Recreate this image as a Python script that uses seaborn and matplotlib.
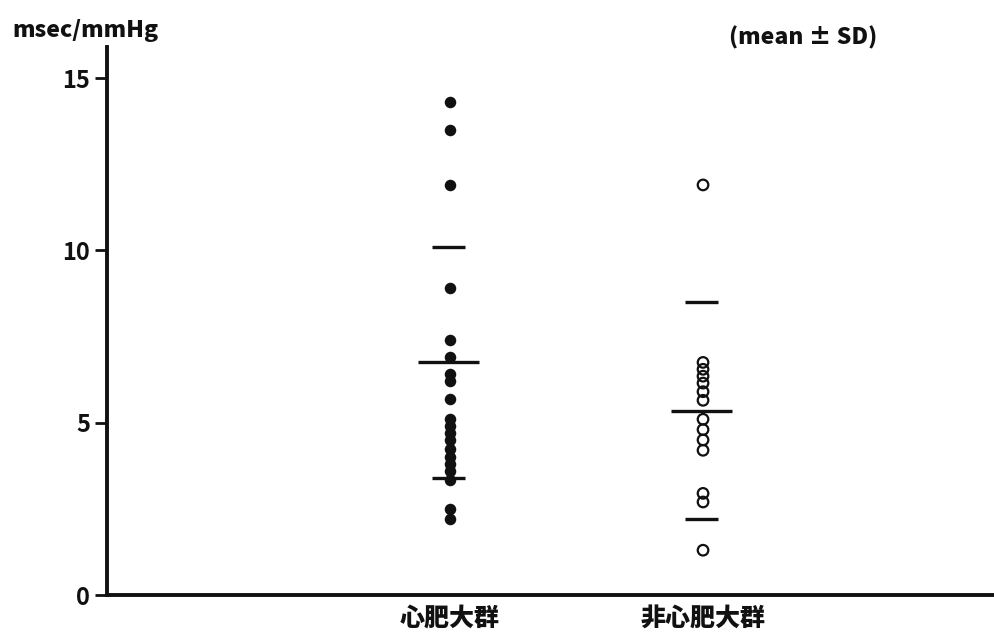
import matplotlib
matplotlib.use("Agg")
import matplotlib.pyplot as plt
import numpy as np
import pandas as pd
import seaborn as sns

# Groups on the x axis
groups = ["心肥大群", "非心肥大群"]

# Individual measurements (msec/mmHg)
hypertrophy = [14.3, 13.5, 11.9, 8.9, 7.4, 6.9, 6.4, 6.2, 5.7, 5.1, 4.9,
               4.7, 4.5, 4.25, 4.0, 3.8, 3.6, 3.35, 2.5, 2.2]
non_hypertrophy = [11.9, 6.75, 6.55, 6.35, 6.15, 5.9, 5.65, 5.1, 4.8, 4.5,
                   4.2, 2.95, 2.7, 1.3]

# Group summaries (mean ± SD)
group_mean = [6.75, 5.35]
group_sd = [3.35, 3.15]

y_ticks = [0, 5, 10, 15]

df = pd.DataFrame({
    "group": [groups[0]] * len(hypertrophy) + [groups[1]] * len(non_hypertrophy),
    "value": hypertrophy + non_hypertrophy,
})

sns.set_style("ticks")
plt.rcParams["font.family"] = ["Noto Sans CJK JP", "DejaVu Sans"]

ink = "#111111"
fig = plt.figure(figsize=(9.95, 6.32), dpi=100)
ax = fig.add_axes([0.1075, 0.0585, 0.8925, 0.867])

# filled dots for the hypertrophy group
sns.stripplot(data=df[df["group"] == groups[0]], x="group", y="value",
              order=groups, jitter=False, size=8.3, color=ink,
              linewidth=0, ax=ax)
# open circles for the other group
sns.stripplot(data=df[df["group"] == groups[1]], x="group", y="value",
              order=groups, jitter=False, size=7.6, color=ink,
              linewidth=1.6, edgecolor=ink, ax=ax)
ax.collections[-1].set_facecolor("none")

# mean line (wide) and ±SD lines (short)
for i, (m, s) in enumerate(zip(group_mean, group_sd)):
    ax.hlines(m, i - 0.125, i + 0.115, color=ink, lw=2.4)
    ax.hlines([m - s, m + s], i - 0.07, i + 0.06, color=ink, lw=2.4)

ax.set_xlim(-1.356, 2.154)
ax.set_ylim(0, 15.9)
ax.set_yticks(y_ticks)
ax.set_yticklabels([str(t) for t in y_ticks], fontsize=17, fontweight="bold",
                   color=ink)
ax.tick_params(axis="y", length=9, width=2, color=ink, pad=3)
ax.tick_params(axis="x", length=0, pad=7)
for lbl in ax.get_xticklabels():
    lbl.set_fontsize(18)
    lbl.set_fontweight("heavy")
    lbl.set_color(ink)
ax.set_xlabel("")
ax.set_ylabel("")

for side in ["top", "right"]:
    ax.spines[side].set_visible(False)
for side in ["left", "bottom"]:
    ax.spines[side].set_linewidth(2.8)
    ax.spines[side].set_color(ink)

fig.text(0.012, 0.952, "msec/mmHg", fontsize=16.5, fontweight="heavy",
         color=ink, va="center", ha="left")
fig.text(0.733, 0.94, "(mean ± SD)", fontsize=16.5, fontweight="heavy",
         color=ink, va="center", ha="left")

fig.savefig("out.png", dpi=100, facecolor="white")
